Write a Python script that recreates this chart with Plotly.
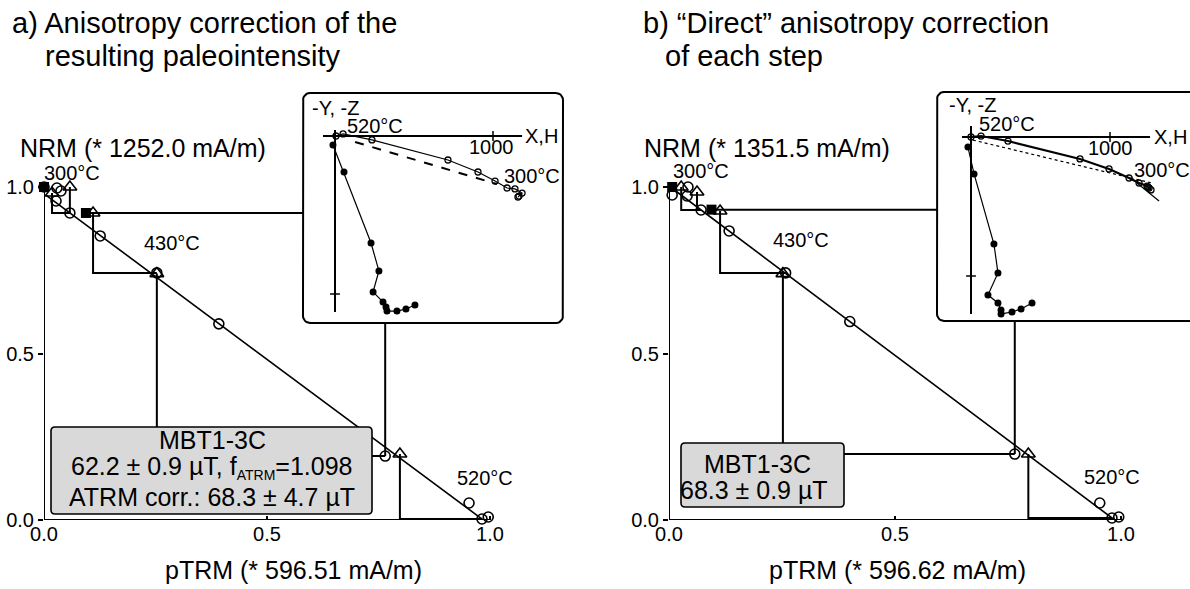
import plotly.graph_objects as go

W, H = 1190, 589
FONT = "Liberation Sans, Arial, Helvetica, sans-serif"

# ---------------- Panel a: Arai data (normalised) ----------------
a_ptrm = [0.0, 0.029, 0.038, 0.027, 0.058, 0.126, 0.253, 0.392, 0.765, 0.953, 0.982, 0.996]
a_nrm = [1.0, 0.997, 0.988, 0.958, 0.922, 0.853, 0.742, 0.589, 0.192, 0.051, 0.003, 0.009]
a_chk_x = [0.018, 0.058, 0.110, 0.253, 0.798]
a_chk_y = [0.982, 1.0, 0.922, 0.740, 0.198]
a_chk_ref = [4, 4, 6, 8, 10]
a_tail_x = [0.0, 0.094]
a_tail_y = [1.0, 0.922]
a_tail_ref = [None, 8]
a_fit_x = [0.005, 0.99]
a_fit_y = [0.975, -0.005]

# ---------------- Panel b: Arai data (normalised) ----------------
b_ptrm = [0.007, 0.042, 0.040, 0.071, 0.133, 0.258, 0.40, 0.765, 0.953, 0.980, 0.995]
b_nrm = [0.976, 1.0, 0.973, 0.931, 0.868, 0.742, 0.596, 0.198, 0.051, 0.006, 0.009]
b_chk_x = [0.027, 0.062, 0.113, 0.252, 0.795]
b_chk_y = [1.0, 0.985, 0.928, 0.740, 0.198]
b_chk_ref = [3, 3, 5, 7, 9]
b_tail_x = [0.007, 0.094]
b_tail_y = [1.0, 0.932]
b_tail_ref = [None, 7]
b_fit_x = [0.012, 0.986]
b_fit_y = [0.991, 0.0]

ticks = [0.0, 0.5, 1.0]
tick_text = ["0.0", "0.5", "1.0"]

# ---------------- Insets: Zijderveld data (mA/m) ----------------
ia_hx = [1158, 1165, 1184, 1139, 1089, 1013, 905, 715, 234, 51, 6]
ia_hy = [386, 380, 361, 335, 329, 285, 228, 152, 25, -13, 0]
ia_vx = [506, 449, 392, 329, 323, 304, 241, 278, 228, 57, -13]
ia_vz = [1070, 1095, 1108, 1108, 1082, 1051, 987, 854, 677, 228, 57]
ia_dash_x = [127, 1025]
ia_dash_y = [38, 304]
ia_axis_x = [-76, 1184]
ia_axis_y = [-38, 1114]

ib_hx = [1273, 1295, 1281, 1266, 1209, 1137, 993, 784, 266, 72, 0]
ib_hy = [360, 381, 367, 353, 331, 295, 230, 158, 29, -7, 0]
ib_vx = [439, 360, 295, 216, 216, 194, 122, 194, 165, 22, -22]
ib_vz = [1194, 1237, 1259, 1273, 1245, 1194, 1137, 978, 770, 266, 72]
ib_dot_x = [14, 1302]
ib_dot_y = [22, 331]
ib_tail_x = [1194, 1353]
ib_tail_y = [331, 460]
ib_axis_x = [-65, 1288]
ib_axis_y = [-79, 1273]


def X(px):
    return px / W


def Y(py):
    return 1 - py / H


fig = go.Figure()


def add_arai(n, ptrm, nrm, cx, cy, cref, tx, ty, tref, fx, fy):
    xa, ya = ("x", "y") if n == 1 else ("x%d" % n, "y%d" % n)
    common = dict(xaxis=xa, yaxis=ya, cliponaxis=False, hoverinfo="skip", showlegend=False)
    fig.add_trace(go.Scatter(x=fx, y=fy, mode="lines", line=dict(color="black", width=1.6), **common))
    lx, ly = [], []
    for x_, y_, r in zip(cx, cy, cref):
        lx += [x_, x_, ptrm[r], None]
        ly += [y_, nrm[r], nrm[r], None]
    for x_, y_, r in zip(tx, ty, tref):
        if r is not None:
            lx += [x_, ptrm[r], ptrm[r], None]
            ly += [y_, y_, nrm[r], None]
    fig.add_trace(go.Scatter(x=lx, y=ly, mode="lines", line=dict(color="black", width=2), **common))
    fig.add_trace(go.Scatter(x=cx, y=cy, mode="markers",
                             marker=dict(symbol="triangle-up-open", size=12, color="black", line=dict(width=1.6)), **common))
    fig.add_trace(go.Scatter(x=ptrm, y=nrm, mode="markers",
                             marker=dict(symbol="circle-open", size=10, color="black", line=dict(width=1.6)), **common))
    fig.add_trace(go.Scatter(x=tx, y=ty, mode="markers",
                             marker=dict(symbol="square", size=10, color="black"), **common))


add_arai(1, a_ptrm, a_nrm, a_chk_x, a_chk_y, a_chk_ref, a_tail_x, a_tail_y, a_tail_ref, a_fit_x, a_fit_y)
add_arai(2, b_ptrm, b_nrm, b_chk_x, b_chk_y, b_chk_ref, b_tail_x, b_tail_y, b_tail_ref, b_fit_x, b_fit_y)


def rounded_pts(x0, y0, x1, y1, r, n=6):
    import math
    pts = []
    corners = [(x1 - r, y0 + r, -90, 0), (x1 - r, y1 - r, 0, 90), (x0 + r, y1 - r, 90, 180), (x0 + r, y0 + r, 180, 270)]
    for cxp, cyp, a0, a1 in corners:
        for i in range(n + 1):
            t = math.radians(a0 + (a1 - a0) * i / n)
            pts.append((cxp + r * math.cos(t), cyp + r * math.sin(t)))
    pts.append(pts[0])
    return pts


def add_inset(n, box, dom, ox, oy, k, hx, hy, vx, vz, axx, axy, hwidth, extra):
    xa, ya = "x%d" % n, "y%d" % n
    common = dict(xaxis=xa, yaxis=ya, hoverinfo="skip", showlegend=False)
    pts = rounded_pts(*box, r=7)
    bx = [(p[0] - ox) / k for p in pts]
    by = [(p[1] - oy) / k for p in pts]
    fig.add_trace(go.Scatter(x=bx, y=by, mode="lines", fill="toself", fillcolor="white",
                             line=dict(color="black", width=2), **common))
    fig.add_trace(go.Scatter(x=[axx[0], axx[1], None, 0, 0], y=[0, 0, None, axy[0], axy[1]], mode="lines",
                             line=dict(color="black", width=2), **common))
    fig.add_trace(go.Scatter(x=[1000], y=[0], mode="markers",
                             marker=dict(symbol="line-ns", size=7, line=dict(width=1.5, color="black")), **common))
    fig.add_trace(go.Scatter(x=[0], y=[1000], mode="markers",
                             marker=dict(symbol="line-ew", size=7, line=dict(width=1.5, color="black")), **common))
    for ex in extra:
        fig.add_trace(go.Scatter(x=ex[0], y=ex[1], mode="lines", line=ex[2], **common))
    fig.add_trace(go.Scatter(x=vx, y=vz, mode="lines+markers", line=dict(color="black", width=1.2),
                             marker=dict(symbol="circle", size=7, color="black"), **common))
    fig.add_trace(go.Scatter(x=hx, y=hy, mode="lines+markers", line=dict(color="black", width=hwidth),
                             marker=dict(symbol="circle-open", size=6, color="black", line=dict(width=1.3)), **common))
    L, T, R, B = dom
    fig.layout["xaxis%d" % n] = dict(domain=[X(L), X(R)], range=[(L - ox) / k, (R - ox) / k],
                                     visible=False, automargin=False)
    fig.layout["yaxis%d" % n] = dict(domain=[Y(B), Y(T)], range=[(B - oy) / k, (T - oy) / k],
                                     visible=False, automargin=False)


add_inset(3, (303, 93, 563, 323), (299, 89, 567, 327), 335, 136, 0.158, ia_hx, ia_hy, ia_vx, ia_vz,
          ia_axis_x, ia_axis_y, 1.2,
          [(ia_dash_x, ia_dash_y, dict(color="black", width=2, dash="dash"))])
add_inset(4, (937, 92, 1210, 321), (933, 88, 1190, 325), 971, 137, 0.139, ib_hx, ib_hy, ib_vx, ib_vz,
          ib_axis_x, ib_axis_y, 2.2,
          [(ib_dot_x, ib_dot_y, dict(color="black", width=1.2, dash="dot")),
           (ib_tail_x, ib_tail_y, dict(color="black", width=1.2))])


def arai_axes(x0, x1, y0, y1, right, top):
    sx = x1 - x0
    sy = y0 - y1
    xa = dict(domain=[X(x0), X(right)], range=[0, (right - x0) / sx], tickvals=ticks, ticktext=tick_text,
              ticks="inside", ticklen=4, tickwidth=1.5, tickcolor="black", showgrid=False, zeroline=False,
              showline=False, automargin=False, tickfont=dict(family=FONT, size=20, color="black"))
    ya = dict(domain=[Y(y0), Y(top)], range=[0, (y0 - top) / sy], tickvals=ticks, ticktext=tick_text,
              ticks="outside", ticklen=5, tickwidth=1.5, tickcolor="black", showgrid=False, zeroline=False,
              showline=False, automargin=False, tickfont=dict(family=FONT, size=20, color="black"))
    return xa, ya


xa1, ya1 = arai_axes(44, 490, 520, 187, 560, 90)
xa2, ya2 = arai_axes(669, 1121, 520, 187, 1185, 90)
xa2["anchor"] = "y2"
ya2["anchor"] = "x2"

shapes = []
for xr, yr in (("x", "y"), ("x2", "y2")):
    shapes.append(dict(type="line", xref=xr, yref=yr, x0=0, y0=0, x1=1.0, y1=0, line=dict(color="black", width=2)))
    shapes.append(dict(type="line", xref=xr, yref=yr, x0=0, y0=0, x1=0, y1=1.0, line=dict(color="black", width=2)))


def rrect_path(x0, y0, x1, y1, r):
    return ("M{a},{b} L{c},{b} Q{d},{b} {d},{e} L{d},{f} Q{d},{g} {c},{g} L{a},{g} Q{h},{g} {h},{f} "
            "L{h},{e} Q{h},{b} {a},{b} Z").format(
        a=X(x0 + r), b=Y(y0), c=X(x1 - r), d=X(x1), e=Y(y0 + r), f=Y(y1 - r), g=Y(y1), h=X(x0))


for bx in ((51, 427, 372, 514), (681, 443, 844, 507)):
    shapes.append(dict(type="path", xref="paper", yref="paper", path=rrect_path(*bx, 4),
                       fillcolor="#d9d9d9", line=dict(color="black", width=1.6), layer="above"))

ann = []


def text(t, x, y, size, anchor="left"):
    ann.append(dict(text=t, x=X(x), y=Y(y), xref="paper", yref="paper", showarrow=False, xanchor=anchor,
                    yanchor="middle", font=dict(family=FONT, size=size, color="black")))


text("a) Anisotropy correction of the", 10, 23, 29)
text("resulting paleointensity", 43, 56, 29)
text("b) \u201cDirect\u201d anisotropy correction", 641, 23, 29)
text("of each step", 663, 56, 29)
text("NRM (* 1252.0 mA/m)", 18, 148, 25)
text("NRM (* 1351.5 mA/m)", 642, 148, 25)
text("pTRM (* 596.51 mA/m)", 293, 570, 25, "center")
text("pTRM (* 596.62 mA/m)", 897, 570, 25, "center")
text("300°C", 72, 173, 20, "center")
text("430°C", 172, 243, 20, "center")
text("520°C", 485, 478, 20, "center")
text("300°C", 701, 171, 20, "center")
text("430°C", 801, 240, 20, "center")
text("520°C", 1112, 477, 20, "center")
# inset texts
text("-Y, -Z", 310, 108, 20)
text("520°C", 345, 126, 20)
text("1000", 492, 147, 20, "center")
text("X,H", 523, 136, 20)
text("300°C", 502, 176, 20)
text("-Y, -Z", 947, 105, 20)
text("520°C", 977, 124, 20)
text("1000", 1110, 148, 20, "center")
text("X,H", 1152, 137, 20)
text("300°C", 1132, 170, 20)
# result boxes
text("MBT1-3C", 212, 440, 25, "center")
text("62.2 ± 0.9 µT, f<sub><span style='font-size:14px'>ATRM</span></sub>=1.098", 212, 468, 25, "center")
text("ATRM corr.: 68.3 ± 4.7 µT", 212, 497, 25, "center")
text("MBT1-3C", 757, 464, 25, "center")
text("68.3 ± 0.9 µT", 754, 490, 25, "center")

fig.update_layout(
    width=W, height=H, margin=dict(l=0, r=0, t=0, b=0, pad=0, autoexpand=False),
    autosize=False,
    paper_bgcolor="white", plot_bgcolor="rgba(0,0,0,0)", showlegend=False,
    xaxis=xa1, yaxis=ya1, xaxis2=xa2, yaxis2=ya2,
    shapes=shapes, annotations=ann,
    font=dict(family=FONT, color="black"),
)

fig.write_html("out.html", config={"displayModeBar": False})
